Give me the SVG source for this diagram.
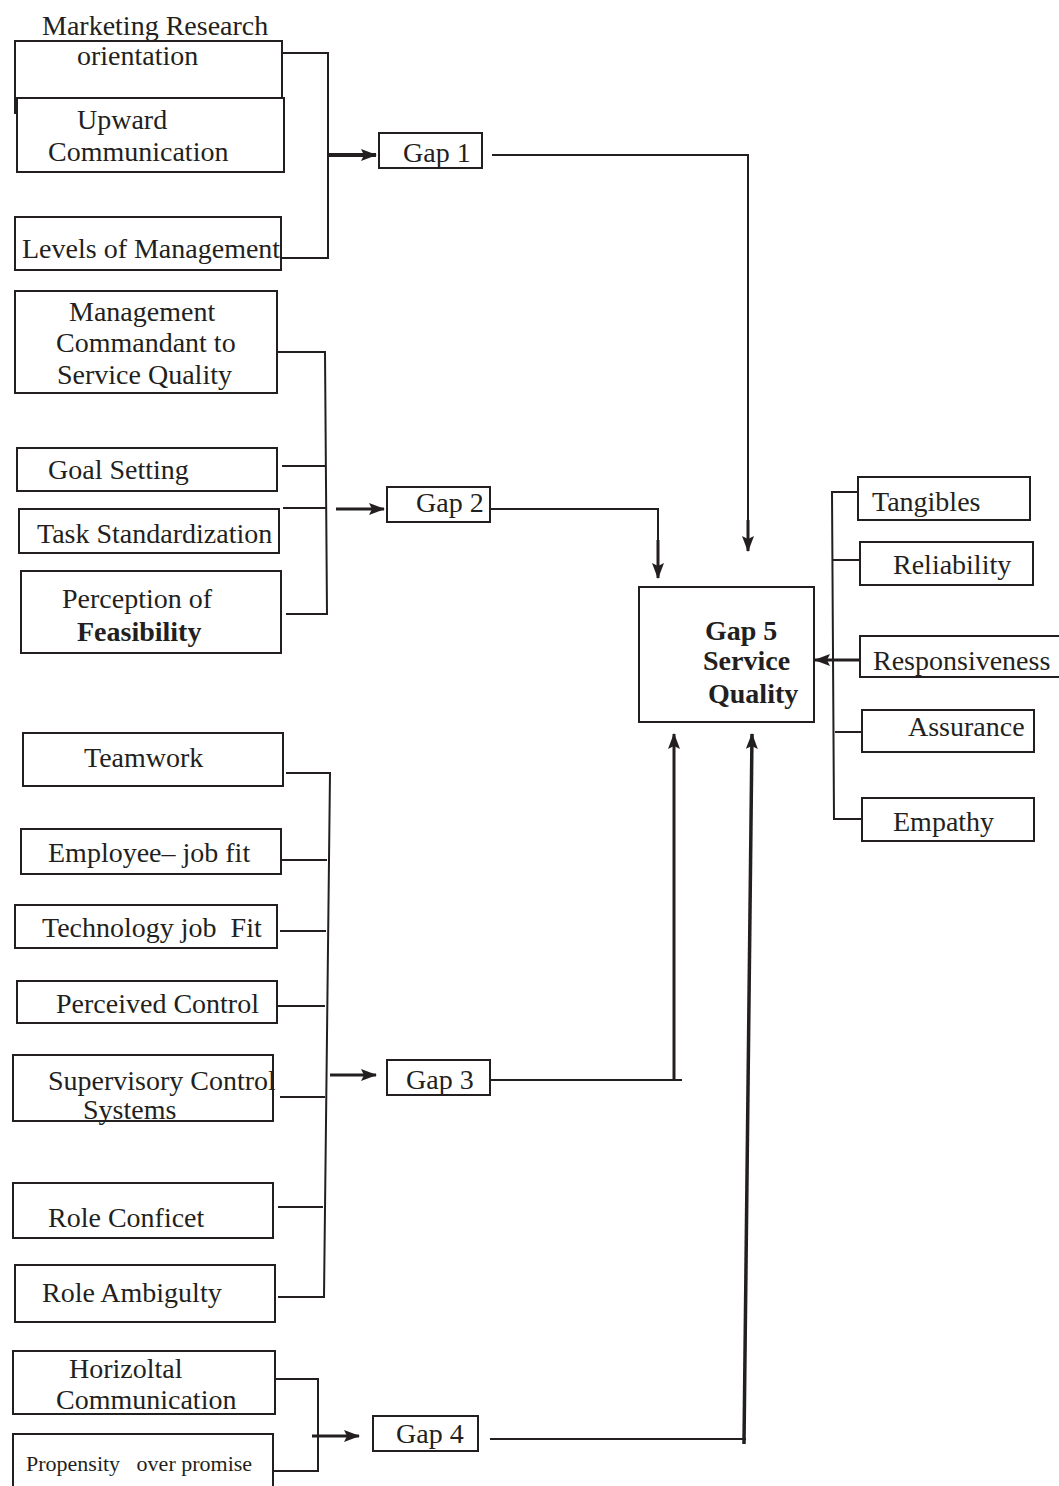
<svg xmlns="http://www.w3.org/2000/svg" width="1059" height="1486" viewBox="0 0 1059 1486">
<style>
.box{fill:#fff;stroke:#231f20;stroke-width:2}
.t{font-family:"Liberation Serif","Times New Roman",serif;font-size:28px;fill:#231f20;white-space:pre}
.b{font-weight:bold}
.ln{fill:none;stroke:#231f20;stroke-width:2}
.ar{fill:none;stroke:#231f20;stroke-width:3;marker-end:url(#ah)}
</style>
<defs>
<marker id="ah" viewBox="0 0 16 12" refX="15" refY="6" markerWidth="16" markerHeight="12" markerUnits="userSpaceOnUse" orient="auto">
<path d="M0,0 L16,6 L0,12 L3,6 Z" fill="#231f20"/>
</marker>
</defs>
<rect width="1059" height="1486" fill="#fff"/>
<g id="connectors">
<polyline class="ln" points="282,53 328,53 328,258 282,258"/>
<line class="ar" x1="328" y1="155" x2="376" y2="155" style="stroke-width:4"/>
<polyline class="ln" points="492,155 748,155 748,540"/>
<line class="ar" x1="748" y1="520" x2="748" y2="551"/>
<polyline class="ln" points="278,352 325,352 327,614 286,614"/>
<line class="ln" x1="282" y1="466" x2="326" y2="466"/>
<line class="ln" x1="283" y1="508" x2="326" y2="508"/>
<line class="ar" x1="336" y1="509" x2="384" y2="509"/>
<polyline class="ln" points="490,509 658,509 658,560"/>
<line class="ar" x1="658" y1="540" x2="658" y2="578"/>
<polyline class="ln" points="860,492 832,492 834,819 862,819"/>
<line class="ln" x1="833" y1="560" x2="862" y2="560"/>
<line class="ln" x1="835" y1="732" x2="862" y2="732"/>
<line class="ar" x1="860" y1="660" x2="815" y2="660"/>
<polyline class="ln" points="286,773 330,773 324,1297 278,1297"/>
<line class="ln" x1="282" y1="860" x2="327" y2="860"/>
<line class="ln" x1="280" y1="931" x2="326" y2="931"/>
<line class="ln" x1="278" y1="1006" x2="325" y2="1006"/>
<line class="ln" x1="280" y1="1097" x2="325" y2="1097"/>
<line class="ln" x1="278" y1="1207" x2="323" y2="1207"/>
<line class="ar" x1="330" y1="1075" x2="376" y2="1075"/>
<polyline class="ln" points="490,1080 682,1080"/>
<line class="ar" x1="674" y1="1080" x2="674" y2="734"/>
<polyline class="ln" points="274,1379 318,1379 318,1471 273,1471"/>
<line class="ar" x1="312" y1="1436" x2="359" y2="1436"/>
<line class="ln" x1="490" y1="1439" x2="746" y2="1439"/>
<line class="ar" x1="744" y1="1444" x2="752" y2="734" style="stroke-width:3.5"/>
</g>
<g id="n-mro"><rect class="box" x="15" y="41" width="267" height="72"/><text class="t" x="42" y="35">Marketing Research</text><text class="t" x="77" y="65">orientation</text></g>
<g id="n-upward"><rect class="box" x="17" y="98" width="267" height="74"/><text class="t" x="77" y="129">Upward</text><text class="t" x="48" y="161">Communication</text></g>
<g id="n-levels"><rect class="box" x="15" y="217" width="266" height="53"/><text class="t" x="22" y="258">Levels of Management</text></g>
<g id="n-gap1"><rect class="box" x="379" y="133" width="103" height="35"/><text class="t" x="403" y="162">Gap 1</text></g>
<g id="n-mgmt"><rect class="box" x="15" y="291" width="262" height="102"/><text class="t" x="69" y="321">Management</text><text class="t" x="56" y="352">Commandant to</text><text class="t" x="57" y="384">Service Quality</text></g>
<g id="n-goal"><rect class="box" x="17" y="448" width="260" height="43"/><text class="t" x="48" y="479">Goal Setting</text></g>
<g id="n-task"><rect class="box" x="19" y="509" width="260" height="44"/><text class="t" x="37" y="543">Task Standardization</text></g>
<g id="n-perc"><rect class="box" x="21" y="571" width="260" height="82"/><text class="t" x="62" y="608">Perception of</text><text class="t b" x="77" y="641">Feasibility</text></g>
<g id="n-gap2"><rect class="box" x="387" y="487" width="103" height="35"/><text class="t" x="416" y="512">Gap 2</text></g>
<g id="n-gap5"><rect class="box" x="639" y="587" width="175" height="135"/><text class="t b" x="705" y="640">Gap 5</text><text class="t b" x="703" y="670">Service</text><text class="t b" x="708" y="703">Quality</text></g>
<g id="n-tang"><rect class="box" x="858" y="477" width="172" height="43"/><text class="t" x="872" y="511">Tangibles</text></g>
<g id="n-rel"><rect class="box" x="860" y="542" width="173" height="43"/><text class="t" x="893" y="574">Reliability</text></g>
<g id="n-resp"><rect class="box" x="860" y="636" width="205" height="41"/><text class="t" x="873" y="670">Responsiveness</text></g>
<g id="n-assu"><rect class="box" x="862" y="710" width="172" height="42"/><text class="t" x="908" y="736">Assurance</text></g>
<g id="n-emp"><rect class="box" x="862" y="798" width="172" height="43"/><text class="t" x="893" y="831">Empathy</text></g>
<g id="n-team"><rect class="box" x="23" y="733" width="260" height="53"/><text class="t" x="84" y="767">Teamwork</text></g>
<g id="n-emp-fit"><rect class="box" x="21" y="829" width="260" height="45"/><text class="t" x="48" y="862">Employee– job fit</text></g>
<g id="n-tech"><rect class="box" x="15" y="905" width="262" height="43"/><text class="t" x="42" y="937">Technology job  Fit</text></g>
<g id="n-pc"><rect class="box" x="17" y="981" width="260" height="42"/><text class="t" x="56" y="1013">Perceived Control</text></g>
<g id="n-sup"><rect class="box" x="13" y="1055" width="260" height="66"/><text class="t" x="48" y="1090">Supervisory Control</text><text class="t" x="83" y="1119">Systems</text></g>
<g id="n-gap3"><rect class="box" x="387" y="1060" width="103" height="35"/><text class="t" x="406" y="1089">Gap 3</text></g>
<g id="n-rc"><rect class="box" x="13" y="1183" width="260" height="55"/><text class="t" x="48" y="1227">Role Conficet</text></g>
<g id="n-ra"><rect class="box" x="15" y="1265" width="260" height="57"/><text class="t" x="42" y="1302">Role Ambigulty</text></g>
<g id="n-horiz"><rect class="box" x="13" y="1351" width="262" height="63"/><text class="t" x="69" y="1378">Horizoltal</text><text class="t" x="56" y="1409">Communication</text></g>
<g id="n-prop"><rect class="box" x="13" y="1434" width="260" height="60"/><text class="t" x="26" y="1471" style="font-size:22px">Propensity   over promise</text></g>
<g id="n-gap4"><rect class="box" x="373" y="1416" width="105" height="35"/><text class="t" x="396" y="1443">Gap 4</text></g>
</svg>
